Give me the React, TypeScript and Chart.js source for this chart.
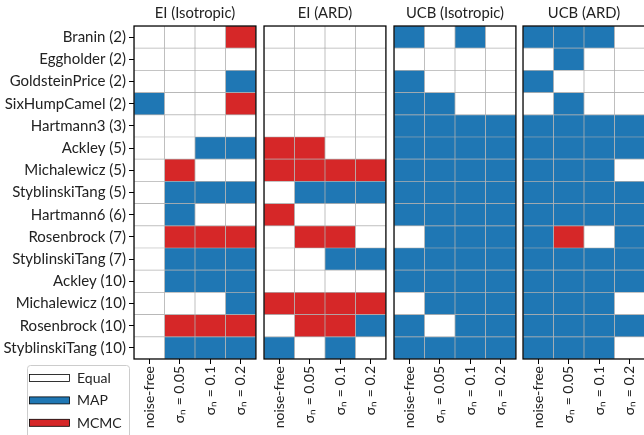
import React, { useEffect, useRef } from "react";
import { Chart, registerables } from "chart.js";
Chart.register(...registerables);

const functionNames = [
  "Branin (2)",
  "Eggholder (2)",
  "GoldsteinPrice (2)",
  "SixHumpCamel (2)",
  "Hartmann3 (3)",
  "Ackley (5)",
  "Michalewicz (5)",
  "StyblinskiTang (5)",
  "Hartmann6 (6)",
  "Rosenbrock (7)",
  "StyblinskiTang (7)",
  "Ackley (10)",
  "Michalewicz (10)",
  "Rosenbrock (10)",
  "StyblinskiTang (10)",
];
const noiseLevels = ["noise-free", "σₙ = 0.05", "σₙ = 0.1", "σₙ = 0.2"];
const panelTitles = ["EI (Isotropic)", "EI (ARD)", "UCB (Isotropic)", "UCB (ARD)"];
const outcomeLabels = ["Equal", "MAP", "MCMC"];
const outcomeColors = ["#ffffff", "#1f77b4", "#d62728"];

// 0 = Equal, 1 = MAP, 2 = MCMC ; rows = functions, columns = noise levels
const eiIsotropic = [
  [0, 0, 0, 2],
  [0, 0, 0, 0],
  [0, 0, 0, 1],
  [1, 0, 0, 2],
  [0, 0, 0, 0],
  [0, 0, 1, 1],
  [0, 2, 0, 0],
  [0, 1, 1, 1],
  [0, 1, 0, 0],
  [0, 2, 2, 2],
  [0, 1, 1, 1],
  [0, 1, 1, 1],
  [0, 0, 0, 1],
  [0, 2, 2, 2],
  [0, 1, 1, 1],
];
const eiArd = [
  [0, 0, 0, 0],
  [0, 0, 0, 0],
  [0, 0, 0, 0],
  [0, 0, 0, 0],
  [0, 0, 0, 0],
  [2, 2, 0, 0],
  [2, 2, 2, 2],
  [0, 1, 1, 1],
  [2, 0, 0, 0],
  [0, 2, 2, 0],
  [0, 0, 1, 1],
  [0, 0, 0, 0],
  [2, 2, 2, 2],
  [0, 2, 2, 1],
  [1, 0, 1, 0],
];
const ucbIsotropic = [
  [1, 0, 1, 0],
  [0, 0, 0, 0],
  [1, 0, 0, 0],
  [1, 1, 0, 0],
  [1, 1, 1, 1],
  [1, 1, 1, 1],
  [1, 1, 1, 1],
  [1, 1, 1, 1],
  [1, 1, 1, 1],
  [0, 1, 1, 1],
  [1, 1, 1, 1],
  [1, 1, 1, 1],
  [0, 1, 1, 1],
  [1, 0, 1, 1],
  [1, 1, 1, 1],
];
const ucbArd = [
  [1, 1, 1, 0],
  [0, 1, 0, 0],
  [1, 0, 0, 0],
  [0, 1, 0, 0],
  [1, 1, 1, 1],
  [1, 1, 1, 1],
  [1, 1, 1, 0],
  [1, 1, 1, 1],
  [1, 1, 1, 1],
  [1, 2, 0, 1],
  [1, 1, 1, 1],
  [1, 1, 1, 1],
  [1, 1, 1, 0],
  [1, 1, 1, 1],
  [1, 1, 1, 0],
];
const panelData = [eiIsotropic, eiArd, ucbIsotropic, ucbArd];

const FONT = "Lato";
const W = 644;
const H = 435;
const AREA_TOP = 26;
const AREA_BOTTOM = 359;
const AREA_WIDTH = 124;
const PANEL_LEFTS = [134, 264, 394, 523];
const PAD = 2;
const TITLE_SIZE = 14.8;

const framePlugin = {
  id: "frame",
  afterDatasetsDraw(chart: any) {
    const { ctx, chartArea } = chart;
    ctx.save();
    ctx.strokeStyle = "#000";
    ctx.lineWidth = 1.25;
    ctx.strokeRect(chartArea.left, chartArea.top, chartArea.right - chartArea.left, chartArea.bottom - chartArea.top);
    ctx.restore();
  },
};

const legendPlugin = {
  id: "cellLegend",
  afterDraw(chart: any) {
    const ctx = chart.ctx;
    ctx.save();
    ctx.beginPath();
    (ctx as any).roundRect(27.5, 365.5, 102, 80, 3);
    ctx.fillStyle = "rgba(255,255,255,0.8)";
    ctx.fill();
    ctx.strokeStyle = "#cccccc";
    ctx.lineWidth = 1;
    ctx.stroke();
    outcomeLabels.forEach((label, i) => {
      const yc = 378 + 22.4 * i;
      ctx.fillStyle = outcomeColors[i];
      ctx.fillRect(29.5, yc - 3.5, 40, 7);
      ctx.strokeStyle = "#000";
      ctx.lineWidth = 0.8;
      ctx.strokeRect(29.5, yc - 3.5, 40, 7);
      ctx.fillStyle = "#222";
      ctx.font = `14px ${FONT}`;
      ctx.textBaseline = "middle";
      ctx.textAlign = "left";
      ctx.fillText(label, 77, yc + 0.5);
    });
    ctx.restore();
  },
};

function Panel({ index }: { index: number }) {
  const ref = useRef<HTMLCanvasElement | null>(null);
  const first = index === 0;
  const canvasLeft = first ? 0 : PANEL_LEFTS[index] - PAD;
  const canvasWidth = first ? PANEL_LEFTS[0] + AREA_WIDTH + PAD : AREA_WIDTH + 2 * PAD;

  useEffect(() => {
    if (!ref.current) return;
    const grid = panelData[index];
    const datasets = noiseLevels.map((_, c) => ({
      label: noiseLevels[c],
      data: grid.map(() => [c, c + 1]),
      backgroundColor: grid.map((row) => outcomeColors[row[c]]),
      borderColor: "#b0b0b0",
      borderWidth: 0.7,
      borderSkipped: false,
      barPercentage: 1,
      categoryPercentage: 1,
      grouped: false,
    }));
    const yAxis: any = {
      type: "category",
      display: first,
      ticks: {
        autoSkip: false,
        padding: 3,
        color: "#222",
        font: { family: FONT, size: 15 },
      },
      grid: { drawOnChartArea: false, drawTicks: true, tickLength: 5, color: "#000", lineWidth: 1, offset: false },
      border: { display: false },
    };
    if (first) {
      yAxis.afterFit = (axis: any) => {
        axis.width = PANEL_LEFTS[0];
      };
    }
    const chart = new Chart(ref.current, {
      type: "bar",
      data: { labels: functionNames, datasets: datasets as any },
      options: {
        indexAxis: "y",
        animation: false,
        responsive: false,
        devicePixelRatio: 1,
        layout: { padding: { left: first ? 0 : PAD, right: PAD, top: 0, bottom: 0 } },
        plugins: {
          legend: { display: false },
          tooltip: { enabled: false },
          title: {
            display: true,
            text: panelTitles[index],
            fullSize: false,
            color: "#222",
            font: { family: FONT, size: TITLE_SIZE, weight: "normal", lineHeight: 1.2 },
            padding: { top: 4.5, bottom: AREA_TOP - 4.5 - TITLE_SIZE * 1.2 },
          },
        },
        scales: {
          x: {
            type: "linear",
            min: 0,
            max: noiseLevels.length,
            afterBuildTicks: (axis: any) => {
              axis.ticks = noiseLevels.map((_, i) => ({ value: i + 0.5 }));
            },
            afterFit: (axis: any) => {
              axis.height = H - AREA_BOTTOM;
            },
            ticks: {
              autoSkip: false,
              minRotation: 90,
              maxRotation: 90,
              padding: 2,
              color: "#222",
              font: { family: FONT, size: 14 },
              callback: (v: any) => noiseLevels[Math.floor(Number(v))],
            },
            grid: { drawOnChartArea: false, drawTicks: true, tickLength: 5, color: "#000", lineWidth: 1 },
            border: { display: false },
          },
          y: yAxis,
        },
      },
      plugins: first ? [framePlugin, legendPlugin] : [framePlugin],
    });
    return () => chart.destroy();
  }, [index]);

  return (
    <div style={{ position: "absolute", left: canvasLeft, top: 0, width: canvasWidth, height: H }}>
      <canvas ref={ref} width={canvasWidth} height={H} style={{ width: canvasWidth, height: H, display: "block" }} />
    </div>
  );
}

export default function App() {
  return (
    <div style={{ position: "fixed", left: 0, top: 0, width: W, height: H, overflow: "hidden", background: "#fff" }}>
      {panelTitles.map((_, i) => (
        <Panel key={i} index={i} />
      ))}
    </div>
  );
}
